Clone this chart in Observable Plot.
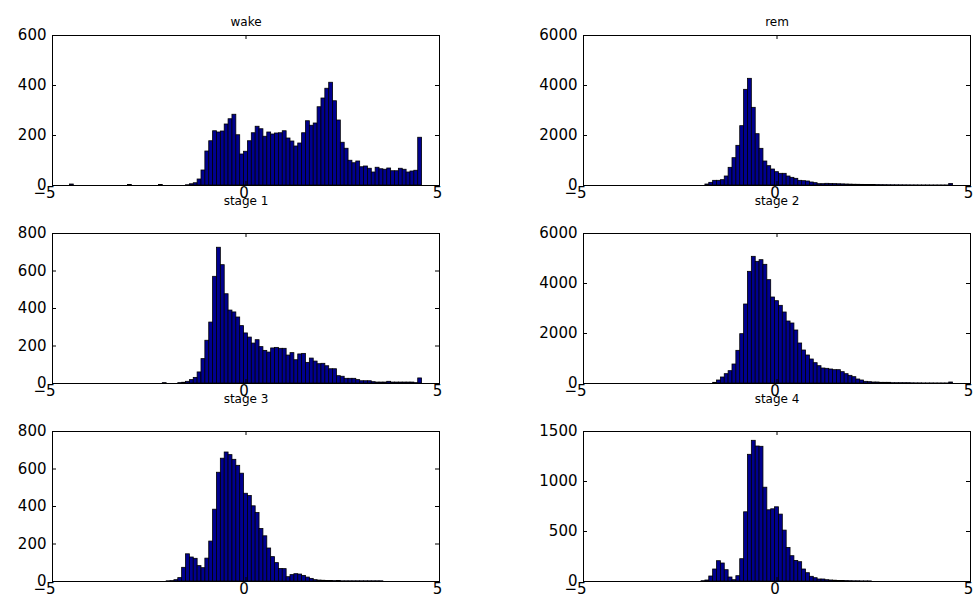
<!DOCTYPE html>
<html><head><meta charset="utf-8">
<script src="https://cdn.jsdelivr.net/npm/d3@7"></script>
<script src="https://cdn.jsdelivr.net/npm/@observablehq/plot@0.6"></script>
<style>
body{margin:0;background:#fff;}
#root{position:relative;width:974px;height:600px;overflow:hidden;background:#fff;}
#root svg{position:absolute;overflow:visible;}
</style></head><body><div id="root"></div>
<script>
// histogram bins: width 0.1, first bin centred at -4.5, 91 bins
const binStart = -4.55;
const binWidth = 0.1;

const wake = [4,0,0,0,0,0,0,0,0,0, 0,0,0,0,0,2,0,0,0,0, 0,0,0,2,0,0,0,0,0,0,
  1,5,9,24,60,136,177,217,212,216, 244,265,283,201,124,135,177,209,235,225,
  195,212,204,208,209,217,188,176,156,168, 209,257,239,248,313,348,387,411,337,260,
  171,147,99,89,96,73,76,67,52,71, 65,63,68,57,57,67,63,52,56,59, 191];
const rem = [0,0,0,0,0,0,0,0,0,0, 0,0,0,0,0,0,0,0,0,0, 0,0,0,0,0,0,0,40,107,187,
  187,213,360,707,1093,1587,2373,3827,4267,3107, 2053,1467,960,773,640,533,467,467,360,307,
  267,187,173,160,120,93,53,53,67,60, 55,50,45,40,35,30,28,25,22,20,
  18,16,14,12,10,9,8,7,6,5, 4,4,3,3,3,2,2,2,2,2, 60];
const stage1 = [0,0,0,0,0,0,0,0,0,0, 0,0,0,0,0,0,0,0,0,0, 0,0,0,0,2,0,0,0,2,4,
  9,18,30,59,130,228,325,569,724,631, 476,389,379,352,306,267,245,213,231,194,
  174,165,187,190,185,185,149,162,124,155, 158,110,133,117,103,105,92,76,76,39,
  36,25,25,25,18,12,12,12,7,5, 5,5,9,5,5,5,5,5,5,2, 27];
const stage2 = [0,0,0,0,0,0,0,0,0,0, 0,0,0,0,0,0,0,0,0,0, 0,0,0,0,0,0,0,0,0,27,
  120,240,373,493,760,1307,1973,3160,4467,5067, 4867,4933,4747,4133,3440,3293,3107,2840,2480,2400,
  2120,1600,1320,1120,960,813,693,600,587,560, 533,533,453,373,307,253,160,120,67,53,
  40,40,27,27,27,13,13,13,13,13, 7,5,5,3,3,3,2,2,2,2, 40];
const stage3 = [0,0,0,0,0,0,0,0,0,0, 0,0,0,0,0,0,0,0,0,0, 0,0,0,0,0,1,2,7,18,73,
  145,128,121,82,71,122,213,383,580,655, 688,674,649,617,575,468,456,401,365,280,
  241,176,130,98,67,66,23,34,39,37, 30,21,14,7,5,4,3,3,2,3,
  1,1,1,1,1,1,1,1,1,1, 1,0,0,0,0,0,0,0,0,0, 0];
const stage4 = [0,0,0,0,0,0,0,0,0,0, 0,0,0,0,0,0,0,0,0,0, 0,0,0,0,0,0,3,10,50,120,
  203,180,113,40,13,53,223,692,1267,1407, 1350,1347,938,712,722,742,669,509,336,253,
  206,193,120,83,47,33,20,20,13,10, 8,6,5,4,3,2,2,1,1,1,
  0,0,0,0,0,0,0,0,0,0, 0,0,0,0,0,0,0,0,0,0, 0];

const titles = ["wake", "rem", "stage 1", "stage 2", "stage 3", "stage 4"];
const series = [wake, rem, stage1, stage2, stage3, stage4];
const yMax = [600, 6000, 800, 6000, 800, 1500];
const yTicks = [[0,200,400,600],[0,2000,4000,6000],[0,200,400,600,800],[0,2000,4000,6000],[0,200,400,600,800],[0,500,1000,1500]];
const xTicks = [-5, 0, 5];

const root = document.getElementById("root");
const colFrameLeft = [52, 583];
const colFrameRight = [439, 970];
const rowFrameTop = [35, 233, 431];
const frameH = 150;
const titleY = [22, 201, 399];

series.forEach((vals, k) => {
  const col = k % 2, row = Math.floor(k / 2);
  const svgLeft = col === 0 ? 0 : 487;
  const svgW = 487;
  const fl = colFrameLeft[col], fr = colFrameRight[col];
  const fw = fr - fl;
  const top = rowFrameTop[row] - 40;
  const data = vals.map((v, i) => ({x1: binStart + i * binWidth, x2: binStart + (i + 1) * binWidth, y: v}));
  const chart = Plot.plot({
    width: svgW,
    height: 40 + frameH + 12,
    marginLeft: fl - svgLeft,
    marginRight: svgLeft + svgW - fr,
    marginTop: 40,
    marginBottom: 12,
    style: {fontFamily: "DejaVu Sans, sans-serif", fontSize: "15px", background: "transparent", color: "black"},
    x: {domain: [-5, 5]},
    y: {domain: [0, yMax[k]]},
    marks: [
      Plot.rectY(data, {x1: "x1", x2: "x2", y: "y", fill: "#00008f", stroke: "black", strokeWidth: 0.8}),
      Plot.frame({stroke: "black", strokeWidth: 1}),
      Plot.tickY(yTicks[k], {y: d => d, stroke: "black", insetRight: fw - 4}),
      Plot.tickY(yTicks[k], {y: d => d, stroke: "black", insetLeft: fw - 4}),
      Plot.tickX(xTicks, {x: d => d, stroke: "black", insetBottom: frameH - 4}),
      Plot.tickX(xTicks, {x: d => d, stroke: "black", insetTop: frameH - 4}),
      Plot.axisY({ticks: yTicks[k], tickSize: 0, tickPadding: 6, label: null, tickFormat: d => String(d), fontSize: 15}),
      Plot.axisX({ticks: [xTicks[0]], tickSize: 0, tickPadding: 2, label: null, fontSize: 15, dx: -8}),
      Plot.axisX({ticks: xTicks.slice(1), tickSize: 0, tickPadding: 2, label: null, fontSize: 15, dx: -2}),
      Plot.text([titles[k]], {x: 0, frameAnchor: "top", dy: titleY[row] - rowFrameTop[row], fontSize: 12, lineAnchor: "middle"})
    ]
  });
  chart.style.left = svgLeft + "px";
  chart.style.top = top + "px";
  root.appendChild(chart);
});
</script></body></html>
